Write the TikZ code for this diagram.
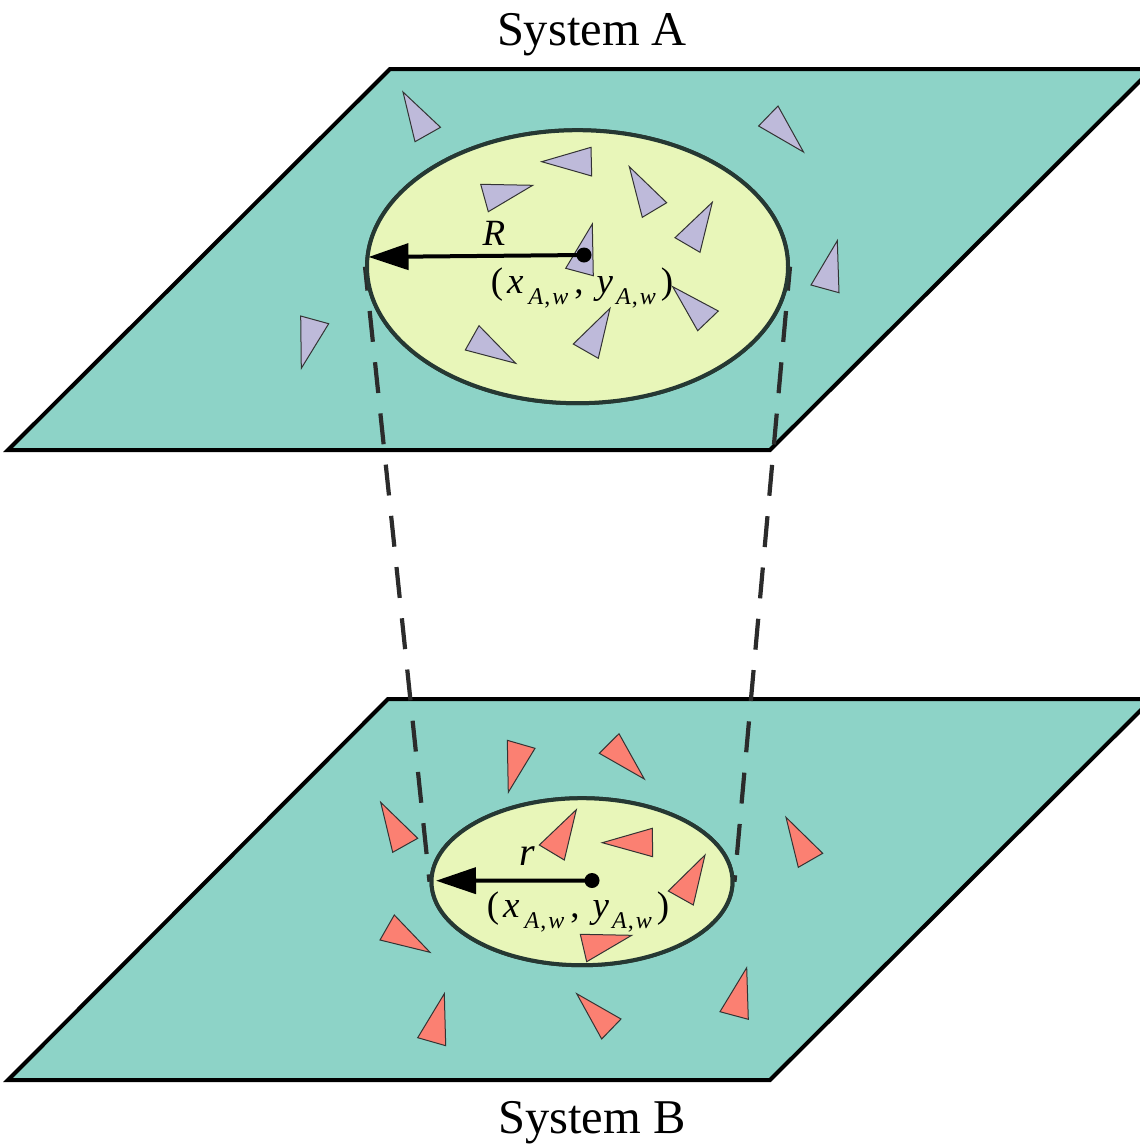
\documentclass[tikz,border=0pt]{standalone}
\usepackage{fontspec}
\setmainfont{Liberation Serif}
\usetikzlibrary{arrows.meta,shapes.geometric}
\definecolor{cPlane}{HTML}{8DD3C7}
\definecolor{cDisk}{HTML}{E8F6B9}
\definecolor{cPur}{HTML}{BEBADA}
\definecolor{cRed}{HTML}{FB8072}
\definecolor{cRim}{HTML}{263833}
\definecolor{cDash}{HTML}{2B2B2B}
\newcommand{\subAw}{\raisebox{-11pt}{\fontsize{24}{26}\selectfont\textit{A}\hspace{1pt},\hspace{2pt}\textit{w}}}
\newcommand{\coordtxt}{\fontsize{37}{40}\selectfont(\hspace{4pt}\textit{x}\hspace{5pt}\subAw\hspace{6pt},\hspace{13pt}\textit{y}\hspace{3pt}\subAw\hspace{5pt})}
\begin{document}
\begin{tikzpicture}[x=1pt,y=-1pt,
  planebox/.style={fill=cPlane,draw=black,line width=4pt},
  diskbox/.style={ellipse,fill=cDisk,draw=cRim,line width=4pt,inner sep=0pt},
  tpur/.style={fill=cPur,draw=black!80,line width=1pt,line join=miter},
  tred/.style={fill=cRed,draw=black!80,line width=1pt,line join=miter},
  dotbox/.style={circle,fill=black,inner sep=0pt,minimum size=15pt},
  projline/.style={draw=cDash,line width=4.2pt,dash pattern=on 31pt off 20.5pt,dash phase=7pt},
  radarrow/.style={draw=black,line width=4pt,-{Triangle[length=40pt,width=26pt]}},
  syslabel/.style={anchor=base,inner sep=0pt,font=\fontsize{48.5}{52}\selectfont},
  coordlabel/.style={anchor=base,inner sep=0pt}
]
\useasboundingbox (0,0) rectangle (1140,1144);
\clip (0,0) rectangle (1140,1144);
\fill[white] (0,0) rectangle (1140,1144);

% planes
\path[planebox] (390,69) -- (1152,69) -- (770,450) -- (8,450) -- cycle;
\path[planebox] (388,699) -- (1152,699) -- (770,1080) -- (8,1080) -- cycle;

% ellipses (nodes)
\node[diskbox,minimum width=421pt,minimum height=273pt] (ea) at (577.5,266.7) {};
\node[diskbox,minimum width=301pt,minimum height=167pt] (eb) at (582,881.7) {};

% projection lines
\draw[projline] (ea.west) -- (eb.west);
\draw[projline] (ea.east) -- (eb.east);
% redraw ellipses over the lines
\node[diskbox,minimum width=421pt,minimum height=273pt] (ea2) at (577.5,266.7) {};
\node[diskbox,minimum width=301pt,minimum height=167pt] (eb2) at (582,881.7) {};

% purple triangles (system A)
\path[tpur] (403,92) -- (440.5,127.3) -- (415,141.7) -- cycle;
\path[tpur] (778,106) -- (803.5,152) -- (758.6,126) -- cycle;
\path[tpur] (541.7,161.7) -- (591,147.3) -- (591.7,176) -- cycle;
\path[tpur] (480.7,184.3) -- (532.7,185.3) -- (488.3,211.7) -- cycle;
\path[tpur] (629.3,166.7) -- (666.7,202.7) -- (642.3,217.3) -- cycle;
\path[tpur] (712.3,202.3) -- (700,252.3) -- (675,237.7) -- cycle;
\path[tpur] (592.3,224) -- (593.3,275.7) -- (565.7,268.3) -- cycle;
\path[tpur] (672.7,286.7) -- (718.3,311) -- (697.7,330.7) -- cycle;
\path[tpur] (610,308.3) -- (598.3,358.3) -- (573.3,344) -- cycle;
\path[tpur] (479,325.7) -- (515.7,363.3) -- (465.3,350) -- cycle;
\path[tpur] (837.3,240.7) -- (839,292.7) -- (811,285) -- cycle;
\path[tpur] (300.7,316) -- (328.7,323.7) -- (301.3,368.3) -- cycle;

% red triangles (system B)
\path[tred] (507.3,740.3) -- (535,748.3) -- (508.3,792.3) -- cycle;
\path[tred] (619,733.7) -- (644.3,779) -- (599.3,753.3) -- cycle;
\path[tred] (576.3,809.7) -- (564.3,860) -- (539.3,845) -- cycle;
\path[tred] (652.3,828.3) -- (652.7,856.7) -- (602.3,842.7) -- cycle;
\path[tred] (705,855) -- (693.3,905) -- (668.3,891) -- cycle;
\path[tred] (580.3,934.3) -- (631.7,935.3) -- (586.7,961.7) -- cycle;
\path[tred] (786,817.3) -- (822.7,853.3) -- (798.3,867.3) -- cycle;
\path[tred] (746.7,967.7) -- (748.3,1019.3) -- (720,1011.7) -- cycle;
\path[tred] (576.7,993.7) -- (621,1019) -- (601.7,1039) -- cycle;
\path[tred] (444.3,993.7) -- (445.7,1045.7) -- (417.7,1037.7) -- cycle;
\path[tred] (380.7,802.3) -- (417.7,838.3) -- (392.7,852.3) -- cycle;
\path[tred] (394.3,915) -- (430,952.3) -- (380,940) -- cycle;

% centres and radii
\node[dotbox] (ca) at (584,255) {};
\node[dotbox] (cb) at (592,880.5) {};
\coordinate (tipA) at (368.5,257);
\coordinate (tipB) at (436,880.7);
\draw[radarrow] (ca.center) -- (tipA);
\draw[radarrow] (cb.center) -- (tipB);

% labels
\node[coordlabel] (R) at (494,245) {\fontsize{37}{40}\selectfont\textit{R}};
\node[coordlabel] (r) at (527,865) {\fontsize{40}{44}\selectfont\textit{r}};
\node[coordlabel] (la) at (582,293) {\coordtxt};
\node[coordlabel] (lb) at (578,917) {\coordtxt};
\node[syslabel] (sa) at (592,45) {System A};
\node[syslabel] (sb) at (592,1133) {System B};
\end{tikzpicture}
\end{document}
